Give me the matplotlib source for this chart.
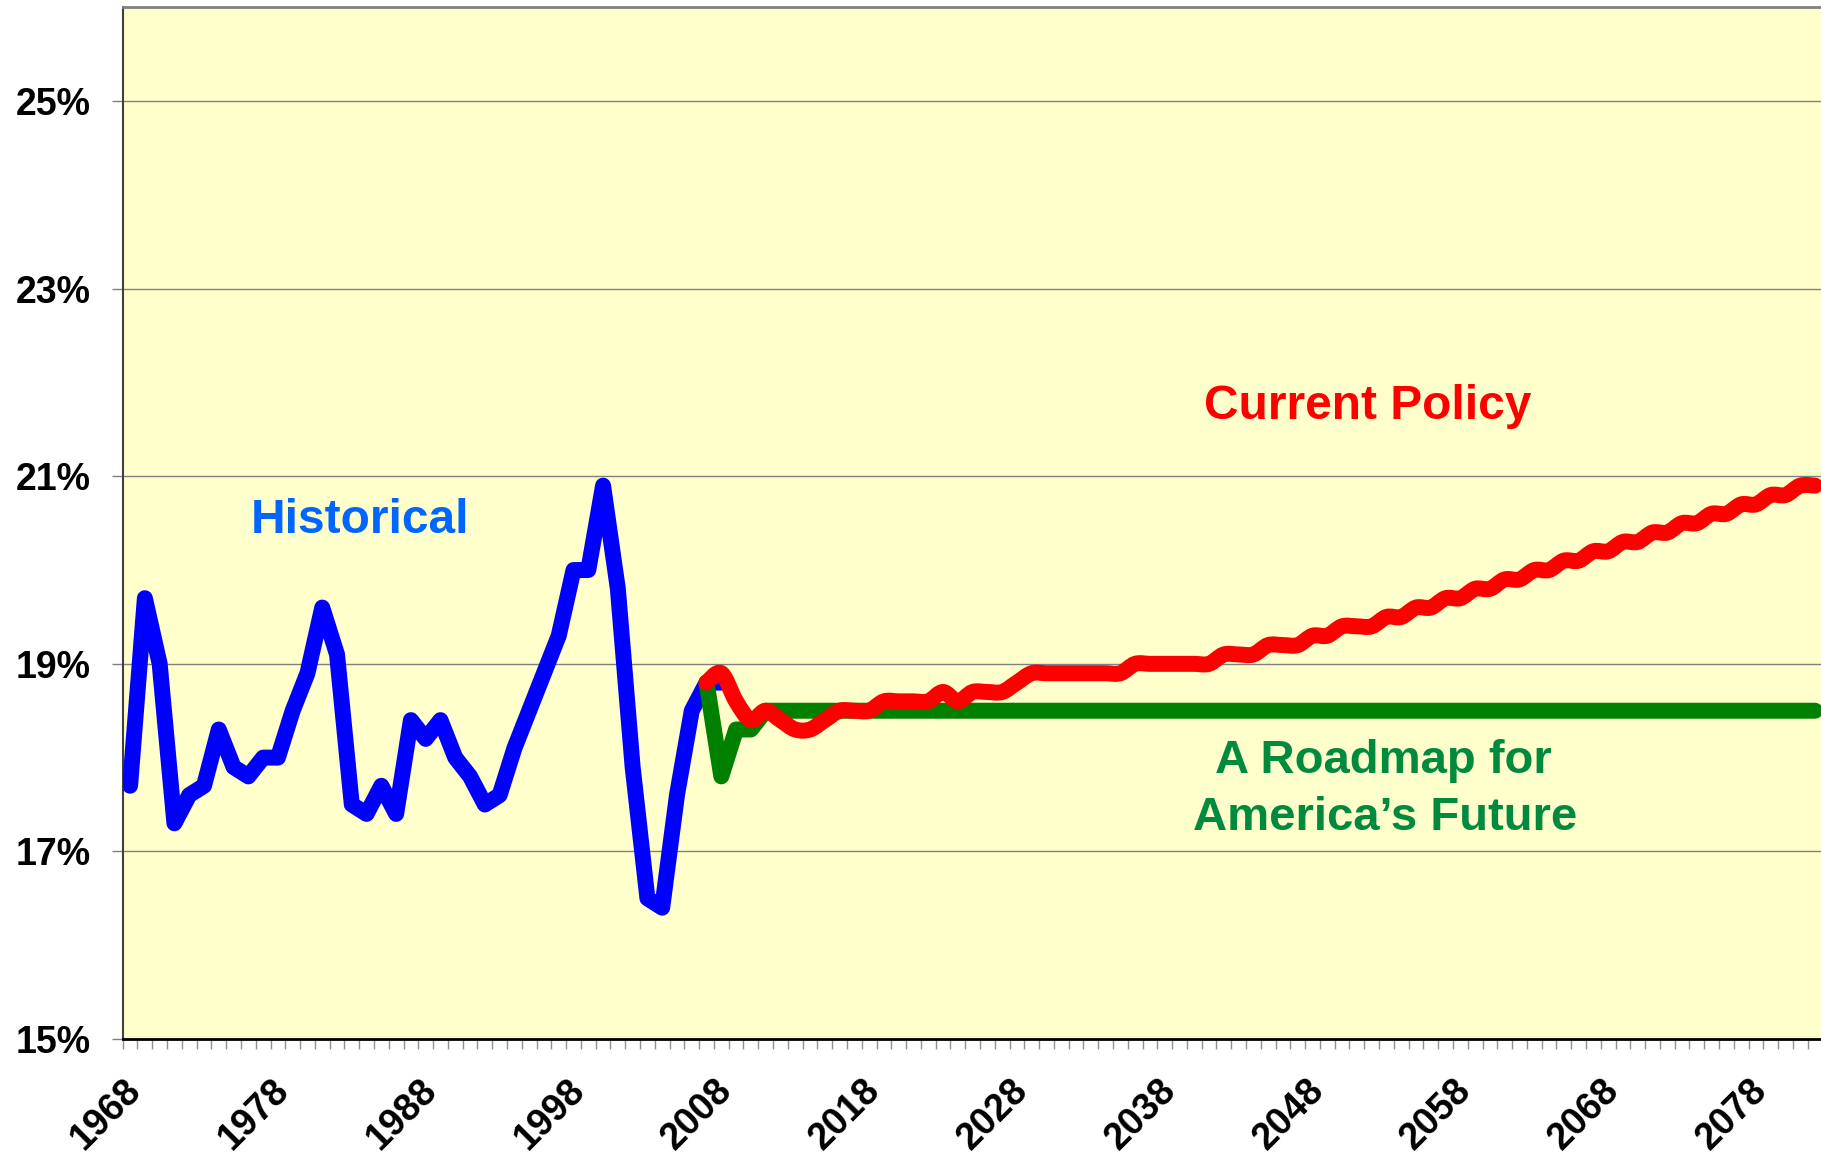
import matplotlib
matplotlib.use("Agg")
import matplotlib.pyplot as plt
import matplotlib.transforms as mtransforms
from matplotlib.path import Path
from matplotlib.patches import PathPatch

# ---------------- data ----------------
hist_years = list(range(1968, 2009))
hist_values = [17.7, 19.7, 19.0, 17.3, 17.6, 17.7, 18.3, 17.9, 17.8, 18.0,
               18.0, 18.5, 18.9, 19.6, 19.1, 17.5, 17.4, 17.7, 17.4, 18.4,
               18.2, 18.4, 18.0, 17.8, 17.5, 17.6, 18.1, 18.5, 18.9, 19.3,
               20.0, 20.0, 20.9, 19.8, 17.9, 16.5, 16.4, 17.6, 18.5, 18.8,
               18.8]

proj_years = list(range(2007, 2083))
current_policy = [18.8, 18.9, 18.6, 18.4, 18.5, 18.4, 18.3, 18.3, 18.4, 18.5,
                  18.5, 18.5, 18.6, 18.6, 18.6, 18.6, 18.7, 18.6, 18.7, 18.7,
                  18.7, 18.8, 18.9, 18.9, 18.9, 18.9, 18.9, 18.9, 18.9, 19.0,
                  19.0, 19.0, 19.0, 19.0, 19.0, 19.1, 19.1, 19.1, 19.2, 19.2,
                  19.2, 19.3, 19.3, 19.4, 19.4, 19.4, 19.5, 19.5, 19.6, 19.6,
                  19.7, 19.7, 19.8, 19.8, 19.9, 19.9, 20.0, 20.0, 20.1, 20.1,
                  20.2, 20.2, 20.3, 20.3, 20.4, 20.4, 20.5, 20.5, 20.6, 20.6,
                  20.7, 20.7, 20.8, 20.8, 20.9, 20.9]
roadmap = [18.8, 17.8, 18.3, 18.3, 18.5, 18.5, 18.5, 18.5, 18.5, 18.5,
           18.5, 18.5, 18.5, 18.5, 18.5, 18.5, 18.5, 18.5, 18.5, 18.5,
           18.5, 18.5, 18.5, 18.5, 18.5, 18.5, 18.5, 18.5, 18.5, 18.5,
           18.5, 18.5, 18.5, 18.5, 18.5, 18.5, 18.5, 18.5, 18.5, 18.5,
           18.5, 18.5, 18.5, 18.5, 18.5, 18.5, 18.5, 18.5, 18.5, 18.5,
           18.5, 18.5, 18.5, 18.5, 18.5, 18.5, 18.5, 18.5, 18.5, 18.5,
           18.5, 18.5, 18.5, 18.5, 18.5, 18.5, 18.5, 18.5, 18.5, 18.5,
           18.5, 18.5, 18.5, 18.5, 18.5, 18.5]

y_ticks = [15, 17, 19, 21, 23, 25]
y_tick_labels = ["15%", "17%", "19%", "21%", "23%", "25%"]
x_label_years = [1968, 1978, 1988, 1998, 2008, 2018, 2028, 2038, 2048, 2058, 2068, 2078]
x_tick_labels = [str(y) for y in x_label_years]


def smooth_path(xs, ys):
    """Excel-style smoothed line: cubic Bezier segments through every data point."""
    verts = [(xs[0], ys[0])]
    codes = [Path.MOVETO]
    n = len(xs)
    for i in range(n - 1):
        x0, y0 = (xs[i - 1], ys[i - 1]) if i > 0 else (xs[i], ys[i])
        x1, y1 = xs[i], ys[i]
        x2, y2 = xs[i + 1], ys[i + 1]
        x3, y3 = (xs[i + 2], ys[i + 2]) if i + 2 < n else (x2, y2)
        c1 = (x1 + (x2 - x0) / 6.0, y1 + (y2 - y0) / 6.0)
        c2 = (x2 - (x3 - x1) / 6.0, y2 - (y3 - y1) / 6.0)
        verts += [c1, c2, (x2, y2)]
        codes += [Path.CURVE4, Path.CURVE4, Path.CURVE4]
    return Path(verts, codes)


# ---------------- figure ----------------
plt.rcParams['font.family'] = ['Liberation Sans', 'DejaVu Sans']
fig = plt.figure(figsize=(18.21, 11.58), dpi=100)
ax = fig.add_axes([122.7 / 1821, 1 - 1039 / 1158, 1 - 122.7 / 1821, (1039 - 7.3) / 1158])
ax.set_facecolor('#FFFFCC')

ax.set_xlim(1967.5, 2082.4)
ax.set_ylim(15, 26)

# grid
for yv in y_ticks[1:]:
    ax.axhline(yv, color='#808080', lw=1.0, zorder=1)

lw = 11.5
kw = dict(lw=lw, solid_joinstyle='round', solid_capstyle='round', zorder=3)
ax.plot(hist_years, hist_values, color='#0000FF', **kw)
ax.plot(proj_years, roadmap, color='#008000', **kw)
red_patch = PathPatch(smooth_path(proj_years, current_policy), facecolor='none',
                      edgecolor='#FF0000', lw=lw, joinstyle='round', capstyle='round',
                      zorder=3.5)
ax.add_patch(red_patch)

# spines
ax.spines['right'].set_visible(False)
ax.spines['top'].set_color('#808080')
ax.spines['top'].set_linewidth(2.0)
ax.spines['left'].set_color('#404040')
ax.spines['left'].set_linewidth(1.5)
ax.spines['bottom'].set_color('#000000')
ax.spines['bottom'].set_linewidth(2.0)

# y ticks
ax.set_yticks(y_ticks)
ax.set_yticklabels(y_tick_labels, fontsize=27, fontweight='bold')
ax.tick_params(axis='y', direction='out', length=8, width=1, color='#808080', pad=15)

# x ticks: minor at category boundaries, labels at category centres
ax.set_xticks([y - 0.5 for y in range(1968, 2083)], minor=True)
ax.set_xticks(x_label_years)
ax.set_xticklabels(x_tick_labels, fontsize=27, fontweight='bold',
                   rotation=45, ha='right', va='top', rotation_mode='anchor')
ax.tick_params(axis='x', which='major', length=0, pad=24)
ax.tick_params(axis='x', which='minor', direction='out', length=7.5, width=1, color='#909090')
offset = mtransforms.ScaledTranslation(-7 / 100, 0, fig.dpi_scale_trans)
for lab in ax.get_xticklabels():
    lab.set_transform(lab.get_transform() + offset)

# annotations
ax.text(1983.57, 20.40, "Historical", color='#0066FF', fontsize=34.5,
        fontweight='bold', ha='center', va='baseline', zorder=4)
ax.text(2051.7, 21.61, "Current Policy", color='#FF0000', fontsize=34.5,
        fontweight='bold', ha='center', va='baseline', zorder=4)
ax.text(2052.8, 17.84, "A Roadmap for", color='#008A3E', fontsize=34,
        fontweight='bold', ha='center', va='baseline', zorder=4)
ax.text(2052.9, 17.23, "America\u2019s Future", color='#008A3E', fontsize=34,
        fontweight='bold', ha='center', va='baseline', zorder=4)

fig.savefig("out.png", dpi=100, facecolor='white')
